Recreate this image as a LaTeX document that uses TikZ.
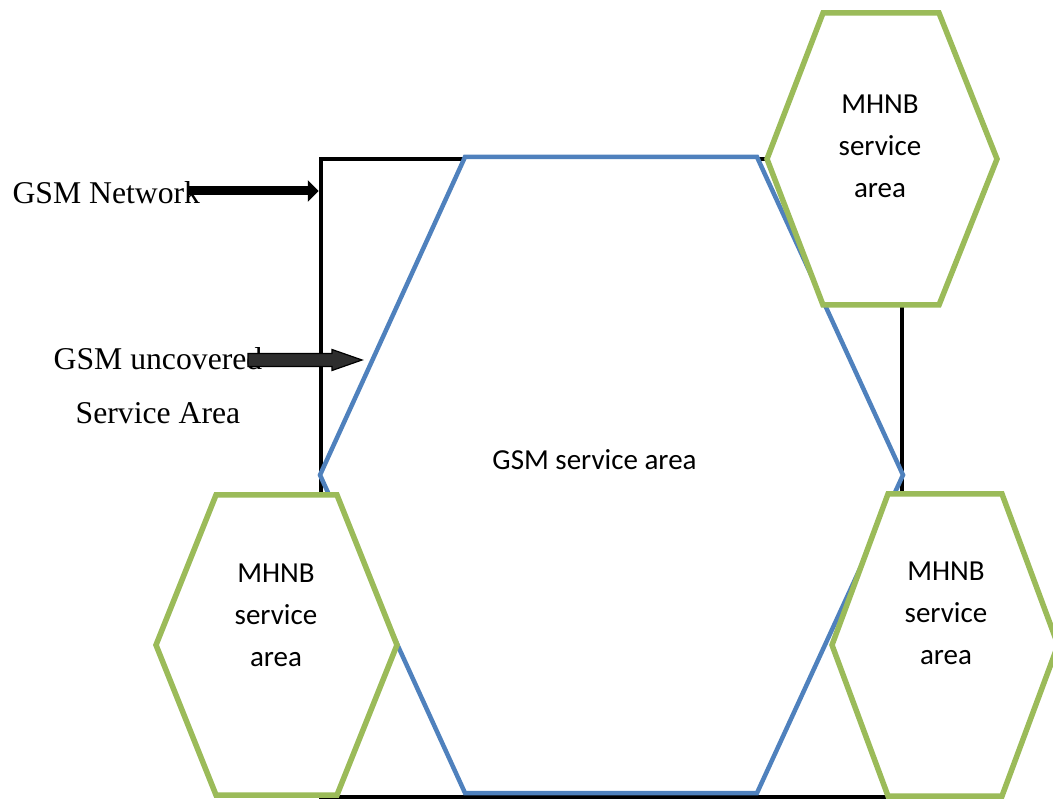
\documentclass[tikz,border=0pt]{standalone}
\usepackage{fontspec}
\setmainfont{Liberation Serif}
\newfontfamily\calibrifont{Carlito}
\usetikzlibrary{arrows.meta}
\definecolor{gsmblue}{HTML}{4F81BD}
\definecolor{mhnbgreen}{HTML}{9BBB59}

\begin{document}
\begin{tikzpicture}[x=1pt,y=-1pt,
    frame/.style={draw=black, line width=4.5pt, minimum width=581pt, minimum height=638pt, inner sep=0pt},
    gsmcell/.style={draw=gsmblue, fill=white, line width=4.5pt},
    mhnbcell/.style={draw=mhnbgreen, fill=white, line width=5.5pt},
    celltext/.style={draw=none, align=center, font=\calibrifont\fontsize{29}{42}\selectfont},
    sidetext/.style={draw=none, align=center, font=\fontsize{31.7}{54}\selectfont},
    netarrow/.style={line width=9pt, -{Triangle[length=11pt, width=21pt]}}]
             \useasboundingbox (0,0) rectangle (1053,799);

             % GSM network boundary
             \node[frame] (gsmnet) at (611.5,478) {};

             % GSM service area
             \draw[gsmcell] (465,157) -- (757,157) -- (903,475) -- (757,793) -- (465,793) -- (320,475) -- cycle;
             \node[celltext] (gsmarea) at (594.5,460) {GSM service area};

             % MHNB service areas
             \draw[mhnbcell] (823,13) -- (939,13) -- (997,159) -- (939,305) -- (823,305) -- (767,159) -- cycle;
             \node[celltext] (mhnbtop) at (880,146) {MHNB\\service\\area};

             \draw[mhnbcell] (216,495) -- (337,495) -- (397,645) -- (337,795) -- (216,795) -- (156,645) -- cycle;
             \node[celltext] (mhnbleft) at (276,615) {MHNB\\service\\area};

             \draw[mhnbcell] (888,494) -- (1002,494) -- (1058,645) -- (1002,796) -- (888,796) -- (832,645) -- cycle;
             \node[celltext] (mhnbright) at (946,613) {MHNB\\service\\area};

             % labels on the left
             \node[sidetext, anchor=base west] (netlabel) at (9,204) {GSM Network};
             \node[sidetext] (uncovlabel) at (158,386) {GSM uncovered\\Service Area};

             \coordinate (nettail) at (187,191);
             \draw[netarrow] (nettail) -- (gsmnet.west |- nettail);

             \coordinate (uncovtip) at (362,360);
             \fill[black!45, shift={(3,3)}] ([xshift=-114]uncovtip) ++(0,-6.5) -- ++(84,0) -- ++(0,-4) -- (uncovtip) -- ++(-30,10.5) -- ++(0,-4) -- ++(-84,0) -- cycle;
             \draw[black, fill=black!82, line width=1.2pt] ([xshift=-114]uncovtip) ++(0,-6.5) -- ++(84,0) -- ++(0,-4) -- (uncovtip) -- ++(-30,10.5) -- ++(0,-4) -- ++(-84,0) -- cycle;
\end{tikzpicture}
\end{document}
